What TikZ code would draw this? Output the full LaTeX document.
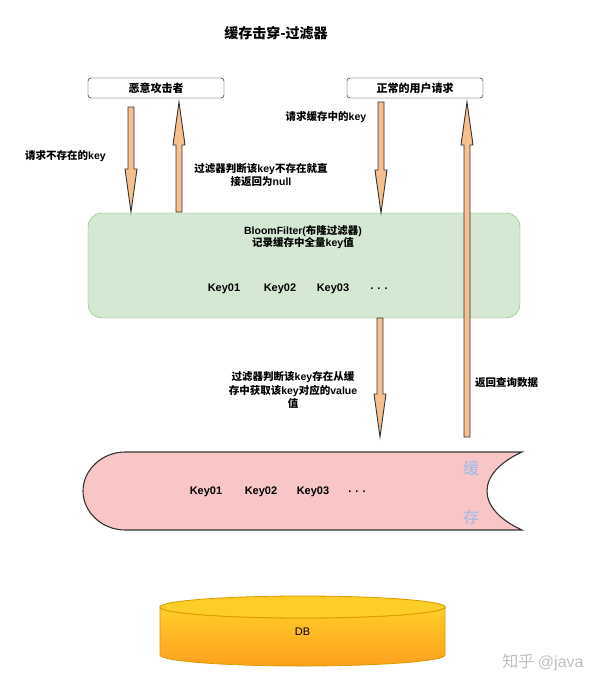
\documentclass[tikz,border=0pt]{standalone}
\usepackage{fontspec}
\setmainfont{Noto Sans CJK SC}
\newfontfamily\lat{Liberation Sans}
\usetikzlibrary{calc}
\definecolor{bffill}{HTML}{D5E8D4}
\definecolor{bfline}{HTML}{82B366}
\definecolor{cachefill}{HTML}{F8C6C6}
\definecolor{arrfill}{HTML}{F5C08E}
\definecolor{arrline}{HTML}{333333}
\definecolor{dbtop}{HTML}{FFCD28}
\definecolor{dbbot}{HTML}{FFA01E}
\definecolor{dbline}{HTML}{D79B00}
\definecolor{cachetag}{HTML}{9DB9EA}
\tikzset{
  labelbox/.style={draw=black, fill=white, rounded corners=3pt, minimum width=136pt,
    minimum height=20pt, inner sep=0pt, font=\bfseries\fontsize{11}{13}\selectfont},
  note/.style={inner sep=0pt, align=center, font=\bfseries\fontsize{10.5}{13.5}\selectfont},
  keytext/.style={inner sep=0pt, font=\lat\bfseries\fontsize{11}{13}\selectfont},
  blockarr/.style={draw=arrline, fill=arrfill, line width=0.9pt, line join=miter},
}
% fat arrow from #1 to the tip #2
\newcommand{\fatarrow}[2]{%
  \coordinate (hb) at ($(#2)!43pt!(#1)$);
  \draw[blockarr] ($(#1)!3pt!90:(#2)$) -- ($(hb)!3pt!-90:(#1)$) -- ($(hb)!6pt!-90:(#1)$)
    -- (#2) -- ($(hb)!6pt!90:(#1)$) -- ($(hb)!3pt!90:(#1)$) -- ($(#1)!3pt!-90:(#2)$) -- cycle;
}
\begin{document}
\begin{tikzpicture}[x=1pt, y=-1pt]
  \useasboundingbox (0,0) rectangle (600,686);
  \node[font=\bfseries\fontsize{14}{16}\selectfont] (title) at (276,33) {缓存击穿-过滤器};

  \node[labelbox] (atk) at (156,88) {恶意攻击者};
  \node[labelbox] (usr) at (415,88) {正常的用户请求};

  % bloom filter
  \node[draw=bfline, fill=bffill, rounded corners=14pt, minimum width=432pt,
    minimum height=105pt] (bf) at (304,265.5) {};
  \node[note, font=\bfseries\fontsize{10.5}{12.5}\selectfont] (bftext) at (303,237)
    {{\lat BloomFilter(}布隆过滤器{\lat )}\\记录缓存中全量{\lat key}值};
  \node[keytext] (bk1) at (224,289) {Key01};
  \node[keytext] (bk2) at (280,289) {Key02};
  \node[keytext] (bk3) at (333,289) {Key03};
  \node[keytext] (bk4) at (379,289) {. . .};

  % cache
  \draw[draw=arrline, fill=cachefill, line width=1.1pt]
    (125,452) -- (522,452) .. controls (500,462) and (487,476) .. (487,491)
    .. controls (487,506) and (500,520) .. (522,530) -- (125,530)
    .. controls (102,530) and (83,512) .. (83,491)
    .. controls (83,470) and (102,452) .. (125,452) -- cycle;
  \node[inner sep=0pt, minimum size=0pt] (cache) at (300,491) {};
  \node[keytext] (ck1) at (206,492) {Key01};
  \node[keytext] (ck2) at (261,492) {Key02};
  \node[keytext] (ck3) at (313,492) {Key03};
  \node[keytext] (ck4) at (357,492) {. . .};
  \node[text=cachetag, font=\fontsize{16}{18}\selectfont] (tag1) at (471,468) {缓};
  \node[text=cachetag, font=\fontsize{16}{18}\selectfont] (tag2) at (471,517) {存};

  % db
  \shade[top color=dbtop, bottom color=dbbot, draw=dbline, line width=0.8pt]
    (160,607) -- (160,655) arc[start angle=180, end angle=360, x radius=142.5pt, y radius=11pt]
    -- (445,607) arc[start angle=0, end angle=180, x radius=142.5pt, y radius=-11pt] -- cycle;
  \draw[dbline, line width=0.8pt, fill=dbtop] (302.5,607) ellipse[x radius=142.5pt, y radius=11pt];
  \node[font=\lat\fontsize{11}{13}\selectfont] (db) at (302.5,632) {DB};

  % arrows
  \coordinate (a1s) at (131,107);  \coordinate (a1e) at (131,212);
  \coordinate (a2s) at (179,212);  \coordinate (a2e) at (179,102);
  \coordinate (a3s) at (381,102);  \coordinate (a3e) at (381,213);
  \coordinate (a4s) at (380,318);  \coordinate (a4e) at (380,437);
  \coordinate (a5s) at (467,437);  \coordinate (a5e) at (467,102);
  \fatarrow{a1s}{a1e}
  \fatarrow{a2s}{a2e}
  \fatarrow{a3s}{a3e}
  \fatarrow{a4s}{a4e}
  \fatarrow{a5s}{a5e}

  \node[note, anchor=west] (n1) at (25,156) {请求不存在的{\lat key}};
  \node[note] (n2) at (261,175) {过滤器判断该{\lat key}不存在就直\\接返回为{\lat null}};
  \node[note] (n3) at (326,117) {请求缓存中的{\lat key}};
  \node[note] (n4) at (293,390) {过滤器判断该{\lat key}存在从缓\\存中获取该{\lat key}对应的{\lat value}\\值};
  \node[note, anchor=west] (n5) at (475,383) {返回查询数据};

  \node[text=black!25, font=\fontsize{16}{18}\selectfont] (mark) at (543,662) {知乎 {\lat @java}};
\end{tikzpicture}
\end{document}
